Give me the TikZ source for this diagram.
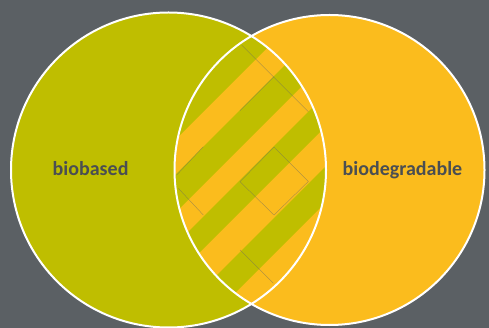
\documentclass[tikz,border=0pt]{standalone}
\usepackage{fontspec}
\setmainfont{Carlito}
\usepackage{xcolor}
\usepackage{tikz}

\definecolor{slateGrey}{HTML}{5B6064}
\definecolor{bioGreen}{HTML}{BFBE00}
\definecolor{degYellow}{HTML}{FBBC1D}
\definecolor{labelGrey}{HTML}{4A4E52}

\tikzset{
  ring/.style={draw=white, line width=2pt},
  seam/.style={draw=black!60, line width=0.35pt, opacity=0.6},
  setlabel/.style={anchor=base west, inner sep=0pt, text=labelGrey,
    font=\bfseries\fontsize{20}{24}\selectfont}
}

\begin{document}
\begin{tikzpicture}[x=1pt, y=-1pt]
	% Background
	\fill[slateGrey] (0,0) rectangle (489,328);
	\useasboundingbox (0,0) rectangle (489,328);

	% The two sets
	\fill[bioGreen] (168.5,170) circle[radius=157.5pt];
	\fill[degYellow] (329.5,170) circle[radius=155pt];

	% Overlap, striped
	\begin{scope}
		\clip (168.5,170) circle[radius=157.5pt];
		\clip (329.5,170) circle[radius=155pt];
		\fill[degYellow] (0,0) rectangle (489,328);
		\foreach \a/\b in {0/315, 350/388, 420/452, 492/528}
			\fill[bioGreen] (\a,0) -- (\b,0) -- (\b-400,400) -- (\a-400,400) -- cycle;
		% Tile seams
		\draw[seam] (241.7,45) -- (308.3,111.7);
		\draw[seam] (274,76.7) -- (240,110.7);
		\draw[seam] (176.7,175) -- (203.3,146.7);
		\draw[seam] (178.3,188.3) -- (203.3,215);
		\draw[seam] (240,181.7) -- (274,147) -- (308.3,181.5) -- (274,215) -- cycle;
		\draw[seam] (240,250) -- (273.3,283.3);
	\end{scope}

	% Outlines
	\draw[ring] (168.5,170) circle[radius=157.5pt];
	\draw[ring] (329.5,170) circle[radius=155pt];

	% Labels
	\node[setlabel] (biobased) at (52.5,176) {biobased};
	\node[setlabel] (biodegradable) at (342.5,176) {biodegradable};
\end{tikzpicture}
\end{document}
